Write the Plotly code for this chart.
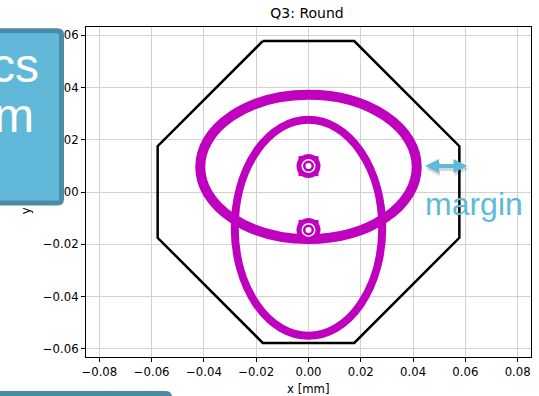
import plotly.graph_objects as go

# ---------------- data ----------------
x_ticks = [-0.08, -0.06, -0.04, -0.02, 0.0, 0.02, 0.04, 0.06, 0.08]
x_tick_labels = ["\u22120.08", "\u22120.06", "\u22120.04", "\u22120.02", "0.00",
                 "0.02", "0.04", "0.06", "0.08"]
y_ticks = [-0.06, -0.04, -0.02, 0.0, 0.02, 0.04, 0.06]
y_tick_labels = ["\u22120.06", "\u22120.04", "\u22120.02", "0.00", "0.02", "0.04", "0.06"]

# aperture (octagon) vertices [mm]
octagon_x = [-0.0175, 0.0175, 0.0577, 0.0577, 0.0175, -0.0175, -0.0577, -0.0577, -0.0175]
octagon_y = [0.0577, 0.0577, 0.0175, -0.0175, -0.0577, -0.0577, -0.0175, 0.0175, 0.0577]

# beam envelopes (ellipses): centre and semi-axes [mm]
ellipse_cx = [0.0, 0.0]
ellipse_cy = [0.0096, -0.0137]
ellipse_rx = [0.0414, 0.0282]
ellipse_ry = [0.0276, 0.0413]

# beam centroids [mm]
spot_x = [0.0, 0.0]
spot_y = [0.0099, -0.0145]

# margin arrow end points [mm]
margin_arrow_x = [0.0440, 0.0608]
margin_arrow_y = [0.0099, 0.0099]

title_text = "Q3: Round"
x_label = "x [mm]"
y_label = "y [mm]"

# ---------------- style ----------------
W, H = 539, 396
L, R, T, B = 86, 531, 27, 357
XR = 0.0851
YR = 0.0631
MAG = "#bf00bf"
BOX_FILL = "#62b8d8"
BOX_EDGE = "#4a8ba7"
ACCENT = "#5fb9d9"
AX_FONT = dict(family="DejaVu Sans", size=11.7, color="black")


def px_x(px):
    return (px - L) / (R - L)


def px_y(py):
    return (B - py) / (B - T)


fig = go.Figure()

fig.add_trace(go.Scatter(x=octagon_x, y=octagon_y, mode="lines",
                         line=dict(color="black", width=2.5),
                         hoverinfo="skip", showlegend=False))

for sym, size, col in [("square", 20, MAG), ("circle", 24, MAG), ("circle", 14, "white"),
                       ("circle", 11, MAG), ("circle", 6, "white")]:
    fig.add_trace(go.Scatter(x=spot_x, y=spot_y, mode="markers",
                             marker=dict(symbol=sym, size=size, color=col, line=dict(width=0)),
                             hoverinfo="skip", showlegend=False))

for cx, cy, rx, ry, w in zip(ellipse_cx, ellipse_cy, ellipse_rx, ellipse_ry, [10, 8]):
    fig.add_shape(type="circle", xref="x", yref="y",
                  x0=cx - rx, x1=cx + rx, y0=cy - ry, y1=cy + ry,
                  line=dict(color=MAG, width=w), fillcolor="rgba(0,0,0,0)", layer="between")

# y-axis label (carried by an invisible shape so the callout box can cover it)
fig.add_shape(type="rect", xref="paper", yref="paper",
              x0=px_x(15), x1=px_x(35), y0=px_y(230), y1=px_y(156),
              line=dict(width=0), fillcolor="rgba(0,0,0,0)", layer="above",
              label=dict(text=y_label, textangle=-90, textposition="middle center",
                         font=AX_FONT))


def rounded_path(left, right, top, bottom, r):
    xl, xr = px_x(left), px_x(right)
    yt, yb = px_y(top), px_y(bottom)
    rx, ry = r / (R - L), r / (B - T)
    return (f"M {xl},{yt} L {xr - rx},{yt} Q {xr},{yt} {xr},{yt - ry} "
            f"L {xr},{yb + ry} Q {xr},{yb} {xr - rx},{yb} L {xl},{yb} Z")


fig.add_shape(type="path", xref="paper", yref="paper",
              path=rounded_path(-30, 61.5, 30.8, 203, 4),
              line=dict(color=BOX_EDGE, width=5), fillcolor=BOX_FILL, layer="above")
fig.add_shape(type="path", xref="paper", yref="paper",
              path=rounded_path(-30, 169.5, 393.5, 450, 4),
              line=dict(color=BOX_EDGE, width=5), fillcolor=BOX_FILL, layer="above")

annotations = []
# callout text
annotations.append(dict(text="cs", xref="paper", yref="paper", x=px_x(39.5), y=px_y(65.4),
                        xanchor="right", yanchor="middle", showarrow=False, borderpad=0,
                        font=dict(family="Liberation Sans", size=48, color="white")))
annotations.append(dict(text="m", xref="paper", yref="paper", x=px_x(35.2), y=px_y(115.4),
                        xanchor="right", yanchor="middle", showarrow=False, borderpad=0,
                        font=dict(family="Liberation Sans", size=48, color="white")))
# margin arrow shadow + arrow
for dx, dy, col in [(1, 3, "rgba(0,0,0,0.16)"), (0, 0, ACCENT)]:
    annotations.append(dict(text="", xref="x", yref="y",
                            x=margin_arrow_x[1], y=margin_arrow_y[1],
                            ax=(margin_arrow_x[0] - margin_arrow_x[1]) * (R - L) / (2 * XR), ay=0,
                            xshift=dx, yshift=-dy,
                            showarrow=True, arrowhead=2, startarrowhead=2, arrowside="end+start",
                            arrowsize=0.7, startarrowsize=0.7, arrowwidth=4, arrowcolor=col,
                            standoff=0, startstandoff=0))
annotations.append(dict(text="margin", xref="paper", yref="paper", x=px_x(424), y=px_y(204),
                        xanchor="left", yanchor="middle", showarrow=False, borderpad=0,
                        font=dict(family="Liberation Sans", size=32, color=ACCENT)))
# x label
annotations.append(dict(text=x_label, xref="paper", yref="paper", x=px_x(308), y=px_y(389.3),
                        xanchor="center", yanchor="middle", showarrow=False, borderpad=0,
                        font=AX_FONT))

axis_common = dict(showgrid=True, gridcolor="#d2d2d2", gridwidth=1, zeroline=False,
                   showline=True, linecolor="black", linewidth=1, mirror=True,
                   ticks="outside", ticklen=4, tickcolor="black", tickwidth=1,
                   tickfont=AX_FONT, tickmode="array", automargin=False)

fig.update_layout(
    template="none",
    width=W, height=H,
    margin=dict(l=L, r=W - R, t=T, b=H - B, pad=0, autoexpand=False),
    paper_bgcolor="white", plot_bgcolor="white",
    showlegend=False,
    title=dict(text=title_text, x=px_x(307), xref="paper", xanchor="center",
               y=1 - 13.5 / H, yref="container", yanchor="middle", automargin=False,
               font=dict(family="DejaVu Sans", size=14, color="black")),
    xaxis=dict(range=[-XR, XR], tickvals=x_ticks, ticktext=x_tick_labels, **axis_common),
    yaxis=dict(range=[-YR, YR], tickvals=y_ticks, ticktext=y_tick_labels, **axis_common),
    annotations=annotations,
)

fig.write_html("out.html",
               config={"displayModeBar": False, "staticPlot": True},
               post_script="document.body.style.margin='0px';document.body.style.overflow='hidden';")
